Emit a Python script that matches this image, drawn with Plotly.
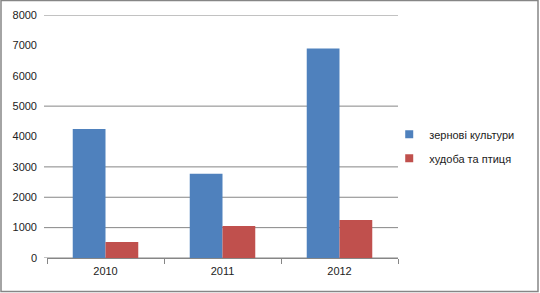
import plotly.graph_objects as go

years = ["2010", "2011", "2012"]
grain = [4250, 2770, 6900]
livestock = [530, 1055, 1250]
series_names = ["зернові культури", "худоба та птиця"]
colors = ["#4F81BD", "#C0504D"]
grid_values = [0, 1000, 2000, 3000, 5000, 8000]
y_ticks = list(range(0, 8001, 1000))

W, H = 540, 293
L, R, T, B = 47, 142, 15, 35
pw, ph = W - L - R, H - T - B

fig = go.Figure()
for i, (name, vals, c) in enumerate(zip(series_names, [grain, livestock], colors)):
    fig.add_trace(go.Bar(x=years, y=vals, name=name, marker=dict(color=c, line=dict(width=0)),
                         showlegend=False))
    fig.add_trace(go.Scatter(x=[None], y=[None], mode="markers", name=name,
                             legendgroup=f"g{i}",
                             marker=dict(symbol="square", size=8, color=c)))

shapes = []
for g in grid_values:
    shapes.append(dict(type="line", xref="paper", yref="y", x0=-3 / pw, x1=1, y0=g, y1=g,
                       line=dict(color="#868686", width=1), layer="below"))
# outer border
shapes.append(dict(type="rect", xref="paper", yref="paper",
                   x0=-(L - 1) / pw, x1=(W - L - 2) / pw,
                   y0=-(B - 1.5) / ph, y1=1 + (T - 0.5) / ph,
                   line=dict(color="#868686", width=1.5)))

fig.update_layout(
    width=W, height=H,
    margin=dict(l=L, r=R, t=T, b=B, autoexpand=False),
    paper_bgcolor="white", plot_bgcolor="white",
    barmode="group", bargap=0.44, bargroupgap=0,
    font=dict(family="Liberation Sans", size=11, color="#222222"),
    shapes=shapes,
    legend=dict(x=0.975, y=0.46, xanchor="left", yanchor="middle",
                font=dict(size=11, color="#222222"), tracegroupgap=5,
                itemwidth=30, bgcolor="rgba(0,0,0,0)"),
    xaxis=dict(type="category", showgrid=False, showline=True, linecolor="#868686",
               linewidth=1, ticks="outside", tickson="boundaries", ticklen=5,
               tickcolor="#868686", ticklabelstandoff=3, fixedrange=True),
    yaxis=dict(range=[0, 8000], tickvals=y_ticks, showgrid=False, zeroline=False,
               showline=False, ticks="", ticklabelstandoff=9, fixedrange=True),
)

fig.write_html("out.html")
